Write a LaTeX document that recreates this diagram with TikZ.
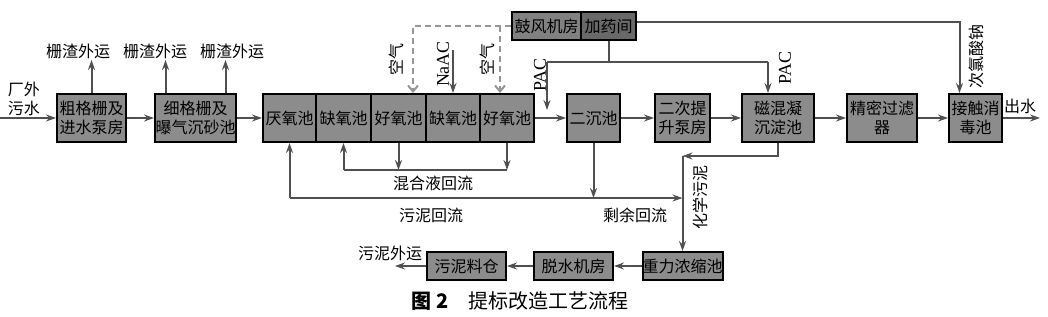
\documentclass[tikz,border=0pt]{standalone}
\usepackage{fontspec}
\setmainfont{Noto Sans CJK SC}
\newfontfamily\latinfont{Liberation Serif}
\usetikzlibrary{calc,arrows.meta}
\definecolor{boxgray}{RGB}{140,140,140}
\definecolor{darkgray}{RGB}{105,105,105}
\definecolor{pipegray}{RGB}{80,80,80}
\definecolor{airgray}{RGB}{150,150,150}
\begin{document}
\begin{tikzpicture}[x=0.5pt, y=-0.5pt,
  unit/.style={draw=black, line width=1pt, fill=boxgray, minimum height=24pt,
    inner sep=0pt, align=center, font=\fontsize{8}{9.5}\selectfont},
  lbl/.style={inner sep=0pt, align=center, font=\fontsize{8}{9.5}\selectfont},
  chem/.style={inner sep=0pt, font=\latinfont\fontsize{9}{10}\selectfont},
  pipe/.style={line width=1pt, draw=pipegray},
  flow/.style={pipe, -{Stealth[length=5pt, width=3.5pt]}},
  air/.style={line width=1pt, draw=airgray, dash pattern=on 3pt off 2pt,
    -{Straight Barb[length=3pt, width=5pt]}}]
\useasboundingbox (0,0) rectangle (1048,316);

% Main treatment line
\node[unit, minimum width=34.5pt] (cg) at (91.5,118) {粗格栅及\\进水泵房};
\node[unit, minimum width=40.5pt] (xg) at (195.5,118) {细格栅及\\曝气沉砂池};
\node[unit, minimum width=26.5pt] (an) at (289.5,118) {厌氧池};
\node[unit, minimum width=27.5pt] (qy1) at (343.5,118) {缺氧池};
\node[unit, minimum width=27.5pt] (hy1) at (398.5,118) {好氧池};
\node[unit, minimum width=27pt] (qy2) at (453,118) {缺氧池};
\node[unit, minimum width=27pt] (hy2) at (507,118) {好氧池};
\node[unit, minimum width=26.5pt] (ec) at (593.5,118) {二沉池};
\node[unit, minimum width=27.5pt] (tb) at (682.5,118) {二次提\\升泵房};
\node[unit, minimum width=36pt] (cn) at (778,118) {磁混凝\\沉淀池};
\node[unit, minimum width=35pt] (jm) at (882,118) {精密过滤\\器};
\node[unit, minimum width=26.5pt] (js) at (975.5,118) {接触消\\毒池};

% Blower room and dosing room
\node[unit, minimum width=34.5pt, minimum height=14pt, fill=boxgray!92!black] (gf) at (546.5,26) {鼓风机房};
\node[unit, minimum width=27.5pt, minimum height=14pt, fill=darkgray] (jy) at (608.5,26) {加药间};

% Sludge line
\node[unit, minimum width=39.5pt, minimum height=14pt] (zl) at (682.5,266) {重力浓缩池};
\node[unit, minimum width=39.5pt, minimum height=14pt] (ts) at (573.5,266) {脱水机房};
\node[unit, minimum width=39.5pt, minimum height=14pt] (wl) at (466.5,266) {污泥料仓};

% Free ends
\coordinate (inlet) at (0,118);
\coordinate (outlet) at (1040,118);
\coordinate (sc1) at (91.5,60);
\coordinate (sc2) at (165.5,60);
\coordinate (sc3) at (225.5,60);
\coordinate (naac) at (453,50);
\coordinate (pacL) at (547,62);
\coordinate (pacR) at (768,62);
\coordinate (pacT) at (547,110);
\coordinate (airA) at ($(hy1.north)+(14.5,0)$);
\coordinate (airB) at ($(hy2.north)+(-7,0)$);
\coordinate (naclo) at ($(jy.east)+(0,-4)$);
\coordinate (mixL) at (343.5,170);
\coordinate (mixR) at (507,170);
\coordinate (retL) at (289.5,198);
\coordinate (chm) at (682.5,156);
\coordinate (sout) at (395,266);

% Water flow
\draw[flow] (inlet) -- (cg);
\draw[flow] (cg) -- (xg);
\draw[flow] (xg) -- (an);
\draw[flow] (hy2) -- (ec);
\draw[flow] (ec) -- (tb);
\draw[flow] (tb) -- (cn);
\draw[flow] (cn) -- (jm);
\draw[flow] (jm) -- (js);
\draw[flow] (js) -- (outlet);

% Screenings
\draw[flow] (cg.north) -- (sc1);
\draw[flow] (xg.north -| sc2) -- (sc2);
\draw[flow] (xg.north -| sc3) -- (sc3);

% Air and chemicals
\draw[air] (gf.west) -| (airA);
\draw[air] (gf.west -| airB) -- (airB);
\draw[flow] (naac) -- (qy2.north);
\draw[pipe] (jy.south) -- (jy.south |- pacL);
\draw[pipe] (pacL) -- (pacR);
\draw[flow] (pacL) -- (pacT);
\draw[flow] (pacR) -- (pacR |- cn.north);
\draw[flow] (naclo) -| ($(js.north)+(-16,0)$);

% Mixed liquor return
\draw[pipe] (mixL) -- (mixR);
\draw[flow] (mixL) -- (qy1.south);
\draw[flow] (hy1.south) -- (hy1.south |- mixL);
\draw[flow] (hy2.south) -- (mixR);

% Sludge return
\draw[flow] (retL) -- (an.south);
\draw[flow] (retL) -- (retL -| zl.north);
\draw[flow] (ec.south) -- (ec.south |- retL);
\draw[flow] (cn.south) |- (chm);
\draw[flow] (chm) -- (zl.north);
\draw[flow] (zl) -- (ts);
\draw[flow] (ts) -- (wl);
\draw[flow] (wl) -- (sout);

% Labels
\node[lbl] (lin) at (24,99) {厂外\\污水};
\node[lbl] (l1) at (78,51) {栅渣外运};
\node[lbl] (l2) at (155,51) {栅渣外运};
\node[lbl] (l3) at (232,51) {栅渣外运};
\node[lbl, rotate=90] (la1) at (396,59) {空气};
\node[lbl, rotate=90] (la2) at (487,59) {空气};
\node[chem, rotate=90] (lna) at (443,64) {NaAC};
\node[chem, rotate=90] (lp1) at (540,75) {PAC};
\node[chem, rotate=90] (lp2) at (785,68) {PAC};
\node[lbl, rotate=90] (lcl) at (976,56) {次氯酸钠};
\node[lbl] (lout) at (1020,106) {出水};
\node[lbl] (lmix) at (433,183) {混合液回流};
\node[lbl] (lret) at (431,215) {污泥回流};
\node[lbl] (lsur) at (635,215) {剩余回流};
\node[lbl, rotate=90] (lch) at (700,197) {化学污泥};
\node[lbl] (lsl) at (390,253) {污泥外运};

% Caption
\node[inner sep=0pt, font=\fontsize{10}{12}\selectfont] (cap) at (520,301)
  {{\bfseries 图~2}\quad 提标改造工艺流程};
\end{tikzpicture}
\end{document}
